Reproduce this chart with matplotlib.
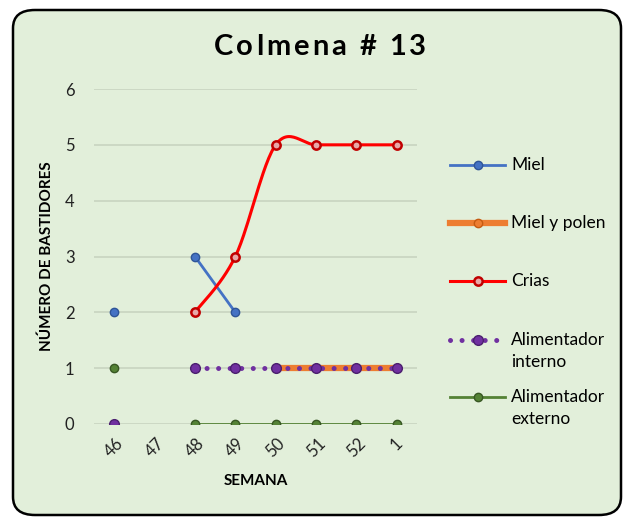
import numpy as np
import matplotlib
matplotlib.use("Agg")
from matplotlib import pyplot as plt
from matplotlib.patches import FancyBboxPatch
from matplotlib.lines import Line2D

plt.rcParams['font.family'] = ['Lato', 'DejaVu Sans']

semanas = ["46", "47", "48", "49", "50", "51", "52", "1"]
nan = np.nan
miel = [2, nan, 3, 2, nan, nan, nan, nan]
miel_polen = [nan, nan, nan, nan, 1, 1, 1, 1]
crias = [nan, nan, 2, 3, 5, 5, 5, 5]
alim_interno = [0, nan, 1, 1, 1, 1, 1, 1]
alim_externo = [1, nan, 0, 0, 0, 0, 0, 0]
series_labels = ["Miel", "Miel y polen", "Crias", "Alimentador\ninterno", "Alimentador\nexterno"]

bg = "#E2EFDA"
c_miel = "#4472C4"
c_polen = "#ED7D31"
c_crias = "#FF0000"
c_int = "#7030A0"
c_ext = "#548235"

fig = plt.figure(figsize=(6.29, 5.18), dpi=100)
fig.patch.set_facecolor("white")
border = FancyBboxPatch((13 / 629, 3 / 518), 608 / 629, 505 / 518,
                        boxstyle="round,pad=0,rounding_size=0.035",
                        transform=fig.transFigure, facecolor=bg,
                        edgecolor="black", linewidth=1.8, zorder=-5)
fig.patches.append(border)

ax = fig.add_axes([94 / 629, 94 / 518, 323 / 629, 335 / 518])
ax.set_facecolor("none")
x = np.arange(len(semanas))


def catmull(xs, ys, n=30):
    # smoothed line through the points, like the spreadsheet's smooth line
    px, py = [], []
    pts = list(zip(xs, ys))
    for i in range(len(pts) - 1):
        p0 = pts[i - 1] if i > 0 else pts[i]
        p1, p2 = pts[i], pts[i + 1]
        p3 = pts[i + 2] if i + 2 < len(pts) else pts[i + 1]
        t = np.linspace(0, 1, n)
        for k in range(2):
            a, b, c, d = p0[k], p1[k], p2[k], p3[k]
            v = 0.5 * (2 * b + (-a + c) * t + (2 * a - 5 * b + 4 * c - d) * t ** 2
                       + (-a + 3 * b - 3 * c + d) * t ** 3)
            (px if k == 0 else py).extend(v)
    return px, py


styles = [
    dict(color=c_miel, lw=2, marker="o", ms=6, mfc=c_miel, mec="#2F5597"),
    dict(color=c_polen, lw=4.5, marker="o", ms=6, mfc=c_polen, mec="#C55A11"),
    dict(color=c_crias, lw=2.2, marker="o", ms=6, mfc="#E8A8A8", mec="#C00000", mew=1.8),
    dict(color=c_int, lw=3.6, ls=(0, (0.01, 2.3)), dash_capstyle="round",
         marker="o", ms=7, mfc=c_int, mec="#4B1F6F"),
    dict(color=c_ext, lw=2, marker="o", ms=6, mfc=c_ext, mec="#385723"),
]

ax.plot(x, miel, zorder=3, **styles[0])
ax.plot(x, miel_polen, zorder=3, **styles[1])
m = ~np.isnan(crias)
sx, sy = catmull(x[m], np.array(crias)[m])
ax.plot(sx, sy, color=c_crias, lw=2.2, zorder=3)
ax.plot(x[m], np.array(crias)[m], ls="none", zorder=4,
        **{k: v for k, v in styles[2].items() if k not in ("color", "lw")})
ax.plot(x, alim_interno, zorder=5, **styles[3])
ax.plot(x, alim_externo, zorder=3, **styles[4])

ax.set_xlim(-0.5, len(semanas) - 0.5)
ax.set_ylim(0, 6)
ax.set_yticks(range(7))
ax.set_xticks(x)
ax.set_xticklabels(semanas, rotation=45, ha="center", va="top")
ax.tick_params(length=0, labelsize=12, colors="#222222", pad=14)
ax.tick_params(axis="x", pad=8)
ax.grid(axis="y", color="#C8D4C0", lw=1.2)
ax.set_axisbelow(True)
for s in ax.spines.values():
    s.set_visible(False)
ax.set_xlabel("SEMANA", fontsize=11, fontweight="bold", labelpad=10)
ax.set_ylabel("NÚMERO DE BASTIDORES", fontsize=11, fontweight="bold", labelpad=8)

# title with a little letter spacing
title = "Colmena # 13"
renderer = fig.canvas.get_renderer()
parts, total = [], 0
spacing = 3.0
for ch in title:
    t = fig.text(0, 0, ch, fontsize=21, fontweight="bold", va="baseline")
    w = t.get_window_extent(renderer).width if ch != " " else 7
    parts.append((t, w))
    total += w + spacing
total -= spacing
xpos = 320 - total / 2
for t, w in parts:
    t.set_position((xpos / 629, 1 - 55 / 518))
    xpos += w + spacing

# legend placed like the original, handle aligned with first text line
leg_y = [165, 223, 281, 340, 397]
for st, lab, yy in zip(styles, series_labels, leg_y):
    yf = 1 - yy / 518
    ln = Line2D([450 / 629, 477.5 / 629, 505 / 629], [yf, yf, yf],
                transform=fig.transFigure, markevery=[1], **st)
    fig.lines.append(ln)
    fig.text(511 / 629, yf + 8 / 518, lab, fontsize=12.5, va="top", ha="left",
             linespacing=1.45)

fig.savefig("out.png", dpi=100, facecolor=fig.get_facecolor())
